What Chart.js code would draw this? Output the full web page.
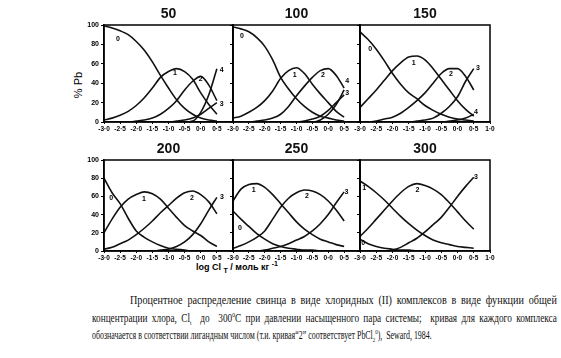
<!DOCTYPE html>
<html>
<head>
<meta charset="utf-8">
<script src="https://cdn.jsdelivr.net/npm/chart.js@4.4.1/dist/chart.umd.min.js"></script>
<style>
  body { margin: 0; background: #fff; }
  #page { position: relative; width: 561px; height: 358px; overflow: hidden; background: #fff; }
  #page canvas { position: absolute; }
  .txt { position: absolute; white-space: nowrap; color: #000; }
  #ylab { font: 11px 'Liberation Sans', Arial, sans-serif; left: 78px; top: 85px; transform: translate(-50%, -50%) rotate(-90deg); }
  #xlab { font: bold 9px 'Liberation Sans', Arial, sans-serif; left: 237px; top: 267px; transform: translate(-50%, -50%); }
  #xlab sub { font-size: 7px; vertical-align: -3px; }
  #xlab sup { font-size: 7px; vertical-align: 4px; }
  .cap { position: absolute; white-space: nowrap; font: 11.5px 'Liberation Serif', 'Times New Roman', serif; line-height: 14px; color: #111; transform-origin: 0 50%; }
  .cap sub, .cap sup { font-size: 7px; line-height: 0; }
  .cap.just { word-spacing: 2.5px; }
</style>
</head>
<body>
<div id="page">
  <div id="ylab" class="txt">% Pb</div>
  <div id="xlab" class="txt">log Cl <sub>T</sub> / моль кг <sup>-1</sup></div>
  <div class="cap just" style="left:130px; top:293px" data-w="427">Процентное распределение свинца в виде хлоридных (II) комплексов в виде функции общей</div>
  <div class="cap just" style="left:92px; top:311px" data-w="465">концентрации хлора, Cl<sub>t</sub> &nbsp;до &nbsp;300<sup>0</sup>C при давлении насыщенного пара системы; &nbsp;кривая для каждого комплекса</div>
  <div class="cap" style="left:92px; top:328px" data-w="340">обозначается в соответствии лигандным числом (т.и. кривая“2” соответствует PbCl<sub>2</sub><sup>0</sup>), &nbsp;Seward, 1984.</div>
</div>
<script>
// panel temperatures (°C) and common x grid, log Cl_T
const temps = ["50", "100", "150", "200", "250", "300"];
const logCl = [-3, -2.75, -2.5, -2.25, -2, -1.75, -1.5, -1.25, -1, -0.75, -0.5, -0.25, 0, 0.25, 0.5];
const xTickValues = [-3, -2.5, -2, -1.5, -1, -0.5, 0, 0.5, 1];
const yTickValues = [0, 20, 40, 60, 80, 100];

// % Pb per species (ligand number 0,1,2,...)
const pb50 = [
  [99, 97, 94, 90, 83, 74, 62, 48, 35, 23, 14, 8, 4, 2, 1],
  [2, 4, 7, 11, 17, 25, 35, 46, 52, 55, 52, 44, 30, 18, 8],
  [0, 0, 0, 0, 1, 2, 4, 8, 14, 22, 33, 42, 47, 38, 22],
  [0, 0, 0, 0, 0, 0, 0, 0, 0, 1, 2, 4, 8, 14, 20],
  [0, 0, 0, 0, 0, 0, 0, 0, 0, 0, 0, 1, 10, 28, 55]
];
const pb100 = [
  [98, 96, 93, 87, 78, 64, 46, 34, 24, 16, 10, 6, 4, 2, 1],
  [4, 6, 10, 15, 22, 32, 45, 53, 56, 50, 39, 29, 20, 11, 5],
  [0, 0, 0, 1, 2, 4, 8, 16, 27, 37, 46, 53, 55, 48, 35],
  [0, 0, 0, 0, 0, 0, 0, 0, 0, 1, 3, 6, 12, 20, 28],
  [0, 0, 0, 0, 0, 0, 0, 0, 0, 0, 0, 2, 8, 18, 33]
];
const pb150 = [
  [93, 85, 75, 63, 50, 39, 30, 24, 17, 12, 8, 5, 3, 2, 1],
  [15, 24, 33, 43, 53, 61, 67, 68, 64, 55, 44, 33, 22, 13, 6],
  [0, 0, 1, 3, 5, 9, 15, 22, 30, 40, 50, 55, 55, 47, 33],
  [0, 0, 0, 0, 0, 0, 0, 1, 2, 4, 9, 16, 26, 42, 55],
  [0, 0, 0, 0, 0, 0, 0, 0, 0, 0, 0, 1, 2, 4, 8]
];
const pb200 = [
  [80, 64, 52, 36, 22, 15, 10, 6, 3, 2, 1, 0, 0, 0, 0],
  [20, 35, 48, 57, 62, 65, 63, 57, 47, 37, 28, 22, 17, 10, 5],
  [2, 4, 8, 12, 18, 25, 33, 42, 50, 58, 64, 66, 62, 54, 41],
  [0, 0, 0, 0, 0, 0, 0, 1, 2, 5, 10, 18, 30, 45, 59]
];
const pb250 = [
  [44, 35, 27, 19, 13, 8, 5, 3, 2, 1, 1, 0, 0, 0, 0],
  [55, 68, 73, 74, 70, 62, 52, 42, 32, 24, 18, 13, 10, 7, 5],
  [3, 6, 10, 15, 22, 35, 48, 58, 64, 67, 66, 62, 55, 45, 33],
  [0, 0, 0, 0, 1, 3, 5, 8, 12, 16, 22, 30, 40, 53, 65]
];
const pb300 = [
  [13, 8, 5, 3, 2, 1, 1, 0, 0, 0, 0, 0, 0, 0, 0],
  [77, 71, 64, 56, 47, 38, 30, 23, 17, 12, 9, 7, 5, 4, 3],
  [16, 25, 35, 45, 55, 64, 71, 74, 72, 68, 62, 53, 43, 33, 24],
  [0, 0, 0, 0, 1, 4, 9, 14, 21, 29, 37, 48, 60, 71, 81]
];

// curve number tags: [text, logCl, %Pb]
const tags50 = [["0", -2.57, 85], ["1", -0.8, 50], ["2", 0.0, 44], ["3", 0.65, 19], ["4", 0.65, 54]];
const tags100 = [["0", -2.72, 89], ["1", -1.06, 48], ["2", -0.17, 48], ["4", 0.6, 42], ["3", 0.6, 30]];
const tags150 = [["0", -2.69, 75], ["1", -1.35, 61], ["2", -0.2, 49], ["3", 0.63, 56], ["4", 0.57, 10]];
const tags200 = [["0", -2.78, 58], ["1", -1.76, 57], ["2", -0.27, 58], ["3", 0.66, 59]];
const tags250 = [["1", -2.35, 67], ["0", -2.78, 25], ["2", -0.67, 60], ["3", 0.57, 65]];
const tags300 = [["1", -2.87, 69], ["2", -1.23, 67], ["0", -2.9, 9], ["3", 0.57, 81]];

const series = [pb50, pb100, pb150, pb200, pb250, pb300];
const tags = [tags50, tags100, tags150, tags200, tags250, tags300];

// plot frames on the page
const colLeft = [104, 233, 360], colRight = [233, 360, 490];
const rowTop = [25, 160], rowBottom = [122, 251];

Chart.defaults.font.family = "'Liberation Sans', Arial, sans-serif";
Chart.defaults.color = "#000";

const framePlugin = {
  id: "frame",
  afterDatasetsDraw(chart) {
    const { ctx, chartArea: a } = chart;
    ctx.save();
    ctx.strokeStyle = "#000";
    ctx.lineWidth = 1.5;
    ctx.strokeRect(a.left, a.top, a.right - a.left, a.bottom - a.top);
    ctx.restore();
  }
};

const tagPlugin = {
  id: "tags",
  afterDatasetsDraw(chart, args, opts) {
    const { ctx, scales } = chart;
    ctx.save();
    ctx.fillStyle = "#000";
    ctx.font = "bold 7px 'Liberation Sans', Arial, sans-serif";
    ctx.textAlign = "center";
    ctx.textBaseline = "middle";
    (opts.items || []).forEach(([t, x, y]) => {
      ctx.fillText(t, scales.x.getPixelForValue(x), scales.y.getPixelForValue(y));
    });
    ctx.restore();
  }
};

const fmt = (v) => v.toFixed(1).replace(".", "·");

function makePanel(i) {
  const col = i % 3, row = Math.floor(i / 3);
  const padL = 40, padR = 12, padT = 22, padB = 14;
  const cv = document.createElement("canvas");
  cv.width = colRight[col] - colLeft[col] + padL + padR;
  cv.height = rowBottom[row] - rowTop[row] + padT + padB;
  cv.style.left = (colLeft[col] - padL) + "px";
  cv.style.top = (rowTop[row] - padT) + "px";
  document.getElementById("page").appendChild(cv);

  const datasets = series[i].map((vals, k) => ({
    label: String(k),
    data: vals.map((v, j) => ({ x: logCl[j], y: v })),
    borderColor: "#111",
    borderWidth: 1.6,
    pointRadius: 0,
    fill: false,
    cubicInterpolationMode: "monotone"
  }));

  new Chart(cv, {
    type: "line",
    data: { datasets },
    plugins: [framePlugin, tagPlugin],
    options: {
      responsive: false,
      animation: false,
      layout: { padding: { right: padR } },
      plugins: {
        legend: { display: false },
        tooltip: { enabled: false },
        title: {
          display: true, text: temps[i], fullSize: false,
          font: { size: 14, weight: "bold" }, color: "#111",
          padding: { top: 3, bottom: 2.2 }
        },
        tags: { items: tags[i] }
      },
      scales: {
        x: {
          type: "linear", min: -3, max: 1,
          afterFit: (s) => { s.height = padB; },
          afterBuildTicks: (s) => { s.ticks = xTickValues.map((v) => ({ value: v })); },
          grid: { display: true, drawOnChartArea: false, tickLength: 2, color: "#000" },
          border: { display: true, color: "#000", width: 1.5 },
          ticks: {
            autoSkip: false, maxRotation: 0, padding: 1,
            font: { size: 6.5, weight: "bold" },
            callback: (v) => (v === 1 && col < 2) ? "" : fmt(v)
          }
        },
        y: {
          min: 0, max: 100,
          afterFit: (s) => { s.width = padL; },
          afterBuildTicks: (s) => { s.ticks = yTickValues.map((v) => ({ value: v })); },
          grid: { display: true, drawOnChartArea: false, tickLength: 3, color: "#000" },
          border: { display: true, color: "#000", width: 1.5 },
          ticks: { display: col === 0, padding: 2, font: { size: 7, weight: "bold" } }
        }
      }
    }
  });
}

temps.forEach((t, i) => makePanel(i));

// squeeze each caption line to the width of the scanned text
document.querySelectorAll(".cap").forEach((el) => {
  const k = Number(el.dataset.w) / el.scrollWidth;
  el.style.transform = "scaleX(" + k.toFixed(3) + ")";
});
</script>
</body>
</html>
